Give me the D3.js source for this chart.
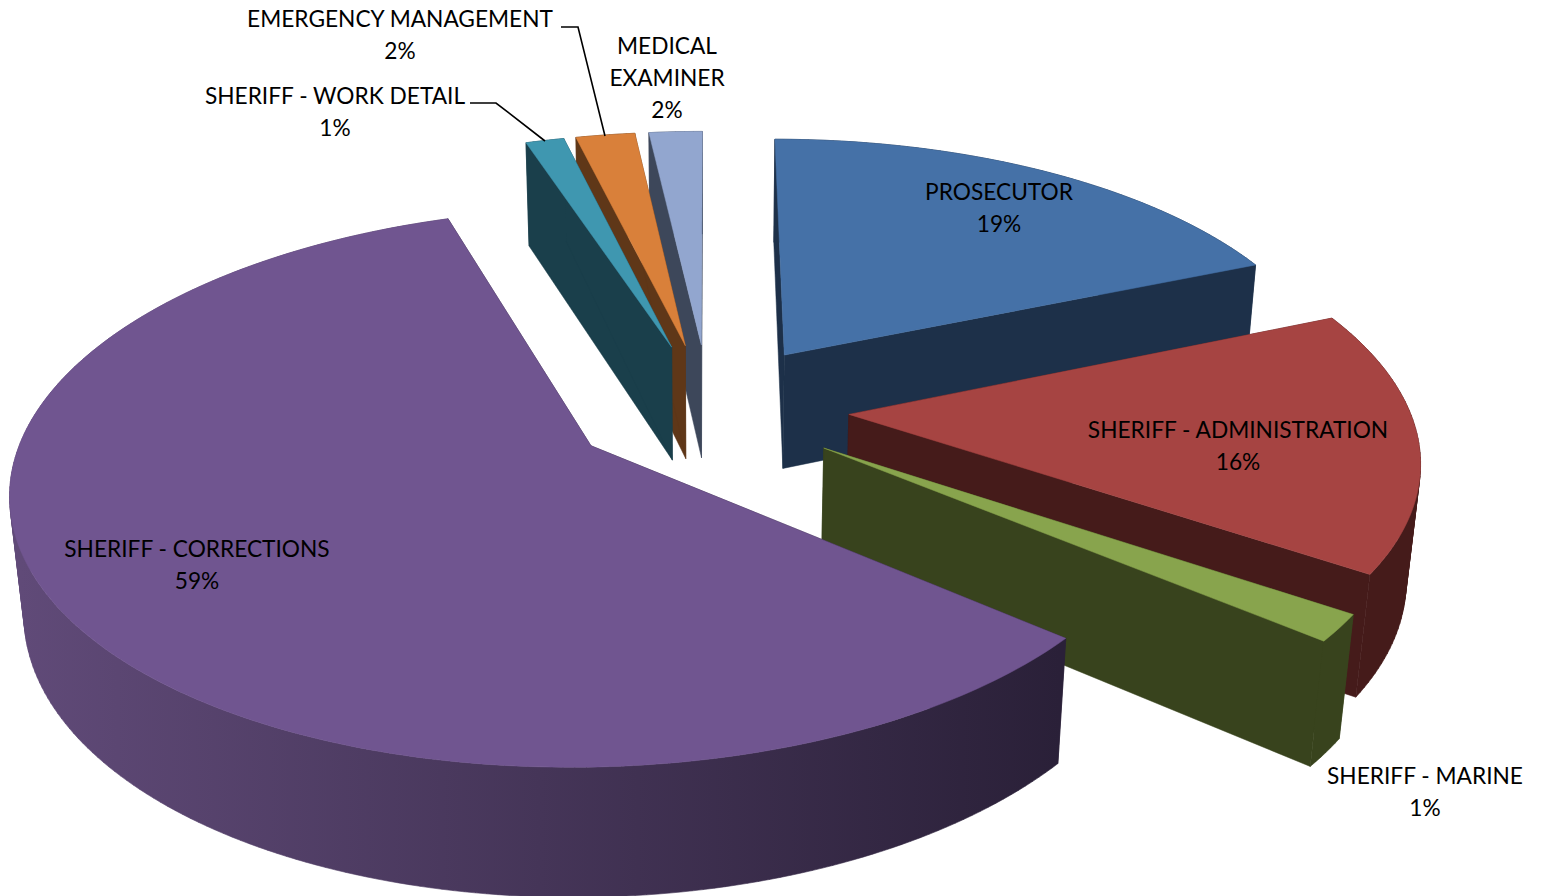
<!DOCTYPE html>
<html><head><meta charset="utf-8">
<script src="https://cdn.jsdelivr.net/npm/d3@7"></script>
<style>html,body{margin:0;padding:0;background:#fff}svg{display:block}text{font-family:Lato,"Open Sans",sans-serif;font-size:22.7px;fill:#000}</style>
</head><body><div id="chart"></div>
<script>
const categories=["PROSECUTOR","SHERIFF - ADMINISTRATION","SHERIFF - MARINE","SHERIFF - CORRECTIONS","SHERIFF - WORK DETAIL","EMERGENCY MANAGEMENT","MEDICAL EXAMINER"];
const values=[18.7,15.7,1.6,58.9,1.3,2.0,1.8];
const percentLabels=["19%","16%","1%","59%","1%","2%","2%"];
const labelLines=[["PROSECUTOR"],["SHERIFF - ADMINISTRATION"],["SHERIFF - MARINE"],["SHERIFF - CORRECTIONS"],["SHERIFF - WORK DETAIL"],["EMERGENCY MANAGEMENT"],["MEDICAL","EXAMINER"]];
const topColors=["#4571a7","#a64442","#88a44d","#705590","#3f97b0","#d9803a","#92a6cf"];
const wallColors=[["#1d3049","#1d3049"],["#451b1a","#451b1a"],["#38431d","#38431d"],["#604a78","#2a2038"],["#1a3f4b","#1a3f4b"],["#5f3718","#5f3718"],["#3d475a","#3d475a"]];
const labelAnchors=[[999,200],[1238,438],[1425,784],[197,557],[335,104],[400,27],[667,54]];
const leaders=[null,null,null,null,[[470,103],[496,103],[545,141]],[[561,27],[578,27],[605,136]],null];
const drawOrder=[6,5,4,0,1,2,3];
const W=1542,H=896,cfg={xc:709,yc:408,A:262,B:560,b:0.147,c:0.02,h:118,e:0.25};
const svg=d3.select("#chart").append("svg").attr("width",W).attr("height",H);
const defs=svg.append("defs");
const arcs=d3.pie().sort(null).value(d=>d)(values);
function project(u,v,down){const w=1-cfg.b*v+(down?cfg.c:0);return [cfg.xc+cfg.B*u/w,cfg.yc+(cfg.A*v+(down?cfg.h:0))/w];}
const line=d3.line();
function plane(a,r,mid){return [cfg.e*Math.sin(mid)+r*Math.sin(a),-cfg.e*Math.cos(mid)-r*Math.cos(a)];}
function quad(p,q){
  const c=[project(p[0],p[1],false),project(q[0],q[1],false),project(q[0],q[1],true),project(p[0],p[1],true)];
  if(d3.polygonArea(c)<0)c.reverse();
  return line(c)+"Z";
}
drawOrder.forEach(i=>{
  const d=arcs[i],mid=(d.startAngle+d.endAngle)/2,g=svg.append("g");
  const n=Math.max(2,Math.round((d.endAngle-d.startAngle)/(Math.PI/180)));
  const ang=d3.range(n+1).map(t=>d.startAngle+(d.endAngle-d.startAngle)*t/n);
  const apex=plane(0,0,mid);
  const gid="wall"+i;
  const gr=defs.append("linearGradient").attr("id",gid).attr("gradientUnits","userSpaceOnUse").attr("x1",20).attr("x2",1060).attr("y1",0).attr("y2",0);
  gr.append("stop").attr("offset",0).attr("stop-color",wallColors[i][0]);
  gr.append("stop").attr("offset",1).attr("stop-color",wallColors[i][1]);
  const wall=(p,q)=>g.append("path").attr("d",quad(p,q)).attr("fill",wallColors[i][1]).attr("stroke",wallColors[i][1]).attr("stroke-width",0.5);
  wall(apex,plane(d.startAngle,1,mid));
  wall(apex,plane(d.endAngle,1,mid));
  const rim=ang.map(a=>plane(a,1,mid));
  g.append("path").attr("d",d3.pairs(rim).map(([p,q])=>quad(p,q)).join("")).attr("fill","url(#"+gid+")").attr("stroke","url(#"+gid+")").attr("stroke-width",0.6).attr("fill-rule","nonzero");
  const pts=[project(apex[0],apex[1],false)].concat(rim.map(p=>project(p[0],p[1],false)));
  g.append("path").attr("d",line(pts)+"Z").attr("fill",topColors[i]).attr("stroke",topColors[i]).attr("stroke-width",0.5);
});
const lg=svg.append("g");
leaders.forEach(l=>{if(l)lg.append("path").attr("d",line(l)).attr("fill","none").attr("stroke","#000").attr("stroke-width",1.6);});
categories.forEach((c,i)=>{
  const t=lg.append("text").attr("text-anchor","middle");
  const lines=labelLines[i].concat([percentLabels[i]]);
  lines.forEach((s,j)=>t.append("tspan").attr("x",labelAnchors[i][0]).attr("y",labelAnchors[i][1]+j*32).text(s));
});
</script></body></html>
